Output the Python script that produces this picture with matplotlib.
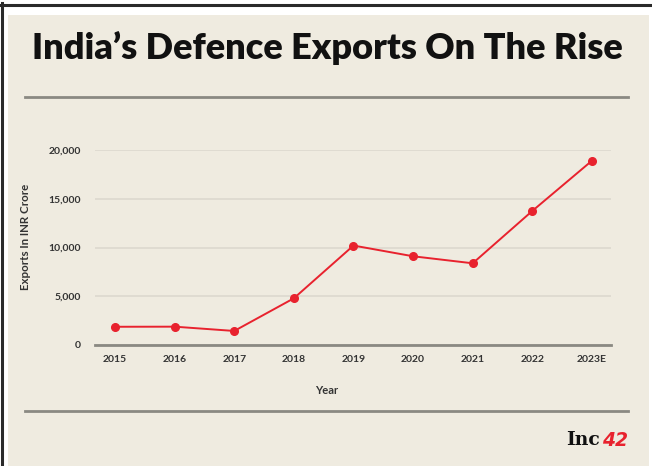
import matplotlib
matplotlib.use('Agg')
import matplotlib.pyplot as plt
from matplotlib.patches import Rectangle
from matplotlib.lines import Line2D
from matplotlib.ticker import FuncFormatter

# chart data
years = ['2015', '2016', '2017', '2018', '2019', '2020', '2021', '2022', '2023E']
exports = [1870, 1880, 1440, 4790, 10200, 9100, 8380, 13750, 18900]
y_ticks = [0, 5000, 10000, 15000, 20000]

W, H = 652, 466
bg = '#efebe0'
red = '#e8222e'

fig = plt.figure(figsize=(W / 100, H / 100), dpi=100, facecolor='white')

# outer frame and beige panel
fig.patches.append(Rectangle((8 / W, 0), (649 - 8) / W, (H - 15) / H,
                             transform=fig.transFigure, facecolor=bg, edgecolor='none', zorder=-5))
fig.lines.append(Line2D([0, 1], [1 - 4.5 / H] * 2, transform=fig.transFigure,
                        color='#2a2a2a', lw=2.2))
fig.lines.append(Line2D([1.5 / W] * 2, [0, 1 - 3 / H], transform=fig.transFigure,
                        color='#2a2a2a', lw=2.2))

# separators
for yy in (97, 411):
    fig.lines.append(Line2D([25 / W, 628 / W], [1 - yy / H] * 2, transform=fig.transFigure,
                            color='#8a8982', lw=2))

fig.text(327 / W, 1 - 48 / H, 'India\u2019s Defence Exports On The Rise', ha='center', va='center',
         fontsize=26, fontweight='heavy', family='Lato', color='#111111')

ax = fig.add_axes([95 / W, 1 - 345 / H, (611 - 95) / W, (345 - 150) / H])
ax.set_facecolor(bg)
x = list(range(len(years)))
ax.plot(x, exports, color=red, lw=1.4, marker='o', markersize=5.5, clip_on=False, zorder=3)

ax.set_xlim(-0.336, 8.32)
ax.set_ylim(0, 20000)
ax.set_yticks(y_ticks)
ax.yaxis.set_major_formatter(FuncFormatter(lambda v, p: f'{int(v):,}'))
ax.set_xticks(x)
ax.set_xticklabels(years)
ax.grid(axis='y', color='#dedad0', lw=1.3)
ax.set_axisbelow(True)
for s in ('top', 'right', 'left'):
    ax.spines[s].set_visible(False)
ax.spines['bottom'].set_color('#8a8982')
ax.spines['bottom'].set_linewidth(2)
ax.tick_params(length=0, labelsize=7.5, labelcolor='#333333')
ax.tick_params(axis='y', pad=10)
ax.tick_params(axis='x', pad=7)
for lab in ax.get_xticklabels() + ax.get_yticklabels():
    lab.set_family('Lato')
    lab.set_fontweight('bold')

fig.text(26 / W, 1 - 237 / H, 'Exports In INR Crore', rotation=90, ha='center', va='center',
         fontsize=8.3, family='Lato', fontweight='bold', color='#333333')
fig.text(327 / W, 1 - 391 / H, 'Year', ha='center', va='center',
         fontsize=8, family='Lato', fontweight='bold', color='#333333')

# logo
fig.text(566 / W, 1 - 440 / H, 'Inc', ha='left', va='center', fontsize=13.5,
         family='DejaVu Serif', fontweight='bold', color='#111111')
fig.text(602 / W, 1 - 440 / H, '42', ha='left', va='center', fontsize=13.5,
         family='DejaVu Sans', fontweight='bold', style='italic', color=red)

fig.savefig('out.png', dpi=100, facecolor='white')
